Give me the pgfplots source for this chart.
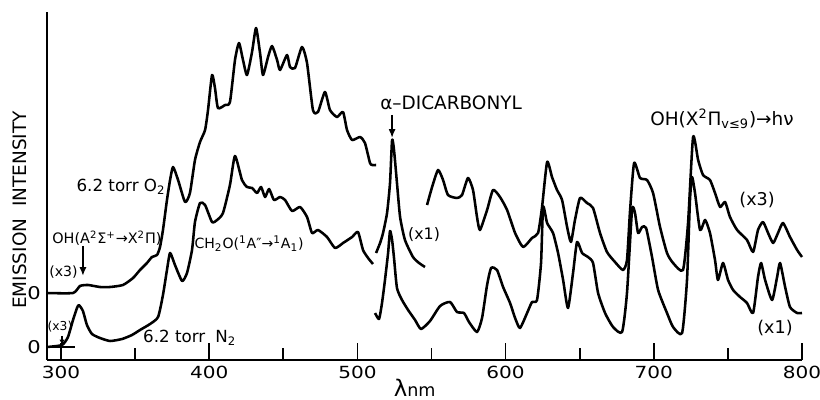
\documentclass[border=0pt]{standalone}
\usepackage{fontspec}
\setmainfont{DejaVu Sans}
\newfontfamily\tickfont{DejaVu Sans}[FakeStretch=1.2]
\usepackage{pgfplots}
\pgfplotsset{compat=1.18}
\usetikzlibrary{arrows.meta}
\pgfplotsset{trace/.style={black, mark=none, line width=1.45pt, line join=round, smooth, tension=0.35}}

\begin{document}
\begin{tikzpicture}
\path[use as bounding box] (-0.94cm,-0.8cm) rectangle (15.46cm,7.2cm);
\begin{axis}[
    at={(0,0)}, anchor=south west,
    scale only axis, width=15.1cm, height=6.96cm,
    xmin=290.55, xmax=800, ymin=0, ymax=348,
    axis lines*=left,
    axis line style={line width=1.1pt},
    xtick={300,400,...,800},
    minor xtick={350,450,...,750},
    tick align=inside,
    major tick length=0.34cm,
    minor tick length=0.24cm,
    tick style={line width=1pt, black},
    ytick={13,67}, yticklabels={0,0},
    ytick style={draw=none},
    xticklabel style={font=\tickfont\fontsize{9.5}{10}\selectfont},
    yticklabel style={font=\tickfont\fontsize{10}{10}\selectfont},
    /pgf/number format/assume math mode=true,
    xlabel={{\fontsize{13}{13}\selectfont λ}{\fontsize{10}{10}\selectfont nm}},
    xlabel style={at={(axis description cs:0.487,-0.08)}, anchor=center},
    ylabel={\fontsize{10.5}{12}\selectfont EMISSION\ \ INTENSITY},
    ylabel style={at={(axis description cs:-0.036,0.431)}, anchor=center},
    clip=false,
  ]
  % 6.2 torr O2, (x3) part
  \addplot[trace] coordinates {
    (290.6,67)(308.1,67)(312.8,74)(318.2,75)(326.3,73)(333.1,73)(341.8,75)
    (348.6,82)(353.3,90)(358.0,97)(361.4,103)(364.8,105)(366.8,113)(368.8,130)
    (371.5,160)(373.6,180)(375.6,193)(379.0,180)(383.7,158)(387.0,167)(390.4,200)
    (393.8,218)(397.2,230)(399.2,250)(401.9,285)(403.9,272)(405.9,252)(410.7,255)
    (414.0,258)(417.4,300)(420.1,317)(422.8,300)(425.5,285)(428.9,308)(431.6,332)
    (434.3,307)(436.3,285)(439.7,303)(442.4,314)(445.8,300)(447.8,290)(452.5,305)
    (454.5,293)(457.9,292)(462.6,313)(466.0,297)(470.0,250)(473.4,248)(478.1,268)
    (481.5,250)(486.2,243)(490.3,248)(493.0,230)(496.4,220)(501.8,223)(505.1,217)
    (508.5,197)(510.0,195)(512.6,195)
  };
  % 6.2 torr O2, (x1) dicarbonyl part
  \addplot[trace] coordinates {
    (512.6,107)(515.3,117)(517.3,127)(520.0,147)(522.0,177)(523.4,220)(524.7,210)
    (526.7,177)(528.8,143)(532.1,120)(537.5,103)(541.6,97)(545.6,93)
  };
  % 6.2 torr O2, (x3) red part
  \addplot[trace] coordinates {
    (547.0,155)(550.4,173)(554.4,190)(557.8,180)(561.1,165)(567.2,162)(570.6,165)
    (574.6,182)(578.0,170)(580.7,143)(582.7,130)(587.5,150)(591.5,170)(596.2,163)
    (601.0,150)(606.4,127)(611.8,113)(617.8,122)(621.9,127)(624.6,153)(628.0,198)
    (631.3,183)(634.7,170)(638.1,160)(641.5,133)(644.1,118)(646.8,140)(650.2,162)
    (654.9,157)(659.0,152)(663.7,127)(668.4,108)(673.8,98)(679.2,90)(681.9,100)
    (684.0,150)(686.7,197)(690.7,182)(695.4,180)(699.5,167)(704.2,133)(708.9,107)
    (713.0,97)(719.7,90)(723.1,137)(726.5,223)(729.9,200)(733.2,185)(737.9,180)
    (741.3,167)(744.7,153)(748.1,158)(751.4,143)(756.2,130)(762.9,120)(767.0,108)
    (770.3,130)(773.7,138)(777.1,127)(780.5,117)(783.8,127)(787.2,137)(791.9,123)
    (796.7,110)(800.0,103)
  };
  % 6.2 torr N2, blue part
  \addplot[trace] coordinates {
    (290.6,13)(300.7,15)(304.7,23)(308.1,40)(310.8,52)(312.1,55)(314.8,49)
    (317.5,35)(320.9,26)(326.3,22)(333.1,19)(341.2,21)(347.9,25)(353.3,30)
    (360.1,36)(365.5,43)(368.8,65)(371.5,90)(373.6,107)(376.9,95)(381.7,79)
    (385.0,87)(388.4,110)(390.4,138)(393.8,157)(397.2,155)(401.9,138)(405.3,140)
    (409.3,147)(414.0,175)(417.4,204)(422.1,180)(425.5,173)(428.9,172)(432.3,167)
    (435.0,173)(437.7,163)(440.4,171)(443.7,160)(447.8,163)(451.2,160)(455.9,149)
    (461.3,153)(466.0,143)(469.4,127)(473.4,130)(479.5,123)(484.9,112)(490.3,117)
    (496.4,123)(500.4,128)(503.8,110)(507.2,102)(510.5,96)
  };
  % 6.2 torr N2, red part
  \addplot[trace] coordinates {
    (511.9,47)(514.6,41)(516.6,57)(518.6,80)(520.7,107)(522.0,129)(523.4,120)
    (524.7,102)(526.7,72)(530.1,60)(534.2,50)(538.9,40)(542.9,31)(549.0,39)
    (555.8,54)(562.5,58)(567.2,48)(571.9,47)(575.3,38)(580.7,28)(584.1,42)
    (587.5,75)(590.2,92)(594.2,90)(598.3,73)(603.0,57)(606.4,42)(609.7,32)
    (614.5,47)(617.8,58)(621.2,60)(623.9,97)(625.3,153)(628.0,137)(632.0,127)
    (635.4,107)(638.8,80)(642.1,52)(645.5,87)(648.2,118)(651.6,107)(655.6,103)
    (659.0,97)(662.4,67)(667.1,47)(672.5,33)(678.6,28)(681.9,67)(685.3,150)
    (687.3,147)(689.4,127)(692.1,133)(694.8,132)(698.8,103)(702.9,70)(708.9,47)
    (713.0,33)(719.1,27)(722.4,80)(724.4,160)(725.8,183)(727.8,167)(731.2,130)
    (734.6,140)(737.9,127)(741.3,100)(743.3,80)(746.7,97)(750.1,80)(753.5,70)
    (758.2,63)(762.9,57)(767.0,47)(770.3,83)(772.4,97)(775.1,80)(779.8,60)
    (783.2,83)(785.2,97)(788.6,73)(791.9,53)(796.7,47)(800.0,47)
  };
  % baseline mark of the lower trace
  \addplot[black, mark=none, line width=1.1pt] coordinates {(290.55,13)(309.5,13)};

  \node[font=\fontsize{9.5}{11}\selectfont] at (axis cs:340.5,173) {6.2 torr O\textsubscript{2}};
  \node[font=\fontsize{8.2}{10}\selectfont] at (axis cs:331.0,122) {OH(A\textsuperscript{2}Σ\textsuperscript{+}→X\textsuperscript{2}Π)};
  \draw[line width=1pt, -{Latex[length=5pt,width=4pt]}] (axis cs:314.8,114) -- (axis cs:314.8,84);
  \node[font=\fontsize{8}{10}\selectfont] at (axis cs:301.7,88) {(x3)};
  \node[font=\fontsize{7}{9}\selectfont] at (axis cs:299.3,33) {(x3)};
  \draw[line width=0.8pt, -{Latex[length=3pt,width=3pt]}] (axis cs:300.7,24) -- (axis cs:300.7,15);
  \node[font=\fontsize{9.5}{11}\selectfont, anchor=west] at (axis cs:351.3,22) {6.2 torr\hspace{0.2cm}N\textsubscript{2}};
  \node[font=\fontsize{8}{10}\selectfont] at (axis cs:426.9,116) {CH\textsubscript{2}O(\textsuperscript{1}A″→\textsuperscript{1}A\textsubscript{1})};
  \node[font=\fontsize{10.5}{12}\selectfont] at (axis cs:563.2,257) {α–DICARBONYL};
  \draw[line width=1pt, -{Latex[length=5pt,width=4pt]}] (axis cs:523.4,245) -- (axis cs:523.4,222);
  \node[font=\fontsize{9}{10}\selectfont] at (axis cs:545.0,125) {(x1)};
  \node[font=\fontsize{10.5}{12}\selectfont] at (axis cs:746.0,241) {OH(X\textsuperscript{2}Π\textsubscript{v≤9})→hν};
  \node[font=\fontsize{10}{12}\selectfont] at (axis cs:769.7,160) {(x3)};
  \node[font=\fontsize{10}{12}\selectfont] at (axis cs:781.8,32) {(x1)};
\end{axis}
\end{tikzpicture}
\end{document}
